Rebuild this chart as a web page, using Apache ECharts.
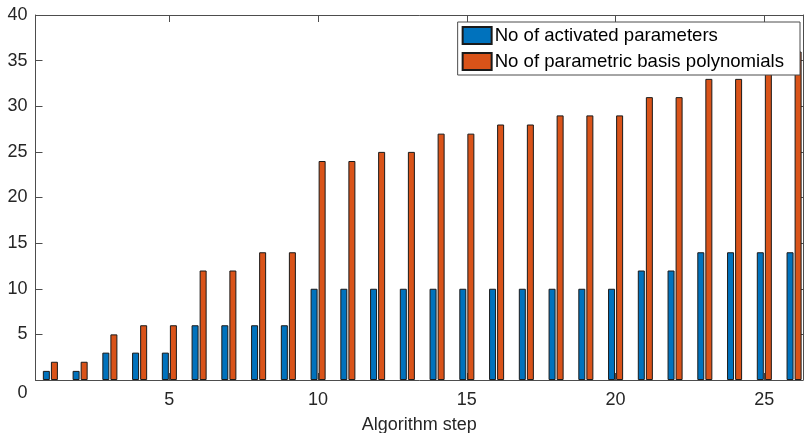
<!DOCTYPE html>
<html>
<head>
<meta charset="utf-8">
<script src="https://cdn.jsdelivr.net/npm/echarts@6/dist/echarts.min.js"></script>
<style>html,body{margin:0;padding:0;background:#fff}#c{width:805px;height:433px}</style>
</head>
<body>
<div id="c"></div>
<script>
const steps = [1,2,3,4,5,6,7,8,9,10,11,12,13,14,15,16,17,18,19,20,21,22,23,24,25,26];
const activated = [1,1,3,3,3,6,6,6,6,10,10,10,10,10,10,10,10,10,10,10,12,12,14,14,14,14];
const basisPolys = [2,2,5,6,6,12,12,14,14,24,24,25,25,27,27,28,28,29,29,29,31,31,33,33,35,36];
const xTicks = [5,10,15,20,25];
const seriesNames = ['No of activated parameters','No of parametric basis polynomials'];

const txt = '#262626';
const axisCol = '#4d4d4d';
const font = 'Liberation Sans, Arial, sans-serif';
const fs = 18;
const chart = echarts.init(document.getElementById('c'));
const axisLineStyle = {color: axisCol, width: 1};
chart.setOption({
  animation: false,
  grid: {left: 35.5, right: 2, top: 15, bottom: 53, containLabel: false, outerBoundsMode: 'none'},
  legend: {
    orient: 'vertical', right: 5, top: 22,
    icon: 'rect',
    itemWidth: 29, itemHeight: 17, itemGap: 7,
    padding: [4, 16, 4, 4],
    borderColor: axisCol, borderWidth: 1, backgroundColor: '#fff', borderRadius: 0,
    textStyle: {fontFamily: font, fontSize: 18.6, color: '#000', padding: [0,0,0,-2]},
    data: seriesNames, z: 10
  },
  xAxis: [{
    type: 'value', min: 0.5, max: 26.3,
    name: 'Algorithm step', nameLocation: 'middle', nameGap: 36,
    nameTextStyle: {fontFamily: font, fontSize: fs, color: txt},
    axisLine: {show: true, onZero: false, lineStyle: axisLineStyle},
    axisTick: {show: true, inside: true, length: 7, customValues: xTicks, lineStyle: axisLineStyle},
    axisLabel: {customValues: xTicks, fontFamily: font, fontSize: fs, color: txt, margin: 11},
    splitLine: {show: false}
  }, {
    type: 'value', min: 0.5, max: 26.3, position: 'top',
    axisLine: {show: true, onZero: false, lineStyle: axisLineStyle},
    axisTick: {show: true, inside: true, length: 7, customValues: xTicks, lineStyle: axisLineStyle},
    axisLabel: {show: false}, splitLine: {show: false}
  }],
  yAxis: [{
    type: 'value', min: 0, max: 40, interval: 5,
    axisLine: {show: true, lineStyle: axisLineStyle},
    axisTick: {show: true, inside: true, length: 7, lineStyle: axisLineStyle},
    axisLabel: {
      fontFamily: font, fontSize: fs, color: txt, margin: 8,
      formatter: v => v === 0 ? '{z|0}' : String(v),
      rich: {z: {fontFamily: font, fontSize: fs, color: txt, padding: [26, 0, 0, 0]}}
    },
    splitLine: {show: false}
  }, {
    type: 'value', min: 0, max: 40, interval: 5, position: 'right',
    axisLine: {show: true, lineStyle: axisLineStyle},
    axisTick: {show: true, inside: true, length: 7, lineStyle: axisLineStyle},
    axisLabel: {show: false}, splitLine: {show: false}
  }],
  series: [{
    name: seriesNames[0], type: 'bar', xAxisIndex: 0, yAxisIndex: 0,
    data: steps.map((s, i) => [s, activated[i]]),
    barWidth: 7, barGap: '15%',
    itemStyle: {color: '#0072BD', borderColor: '#1a1a1a', borderWidth: 1}
  }, {
    name: seriesNames[1], type: 'bar', xAxisIndex: 0, yAxisIndex: 0,
    data: steps.map((s, i) => [s, basisPolys[i]]),
    barWidth: 7, barGap: '15%',
    itemStyle: {color: '#D95319', borderColor: '#1a1a1a', borderWidth: 1}
  }]
});
</script>
</body>
</html>
